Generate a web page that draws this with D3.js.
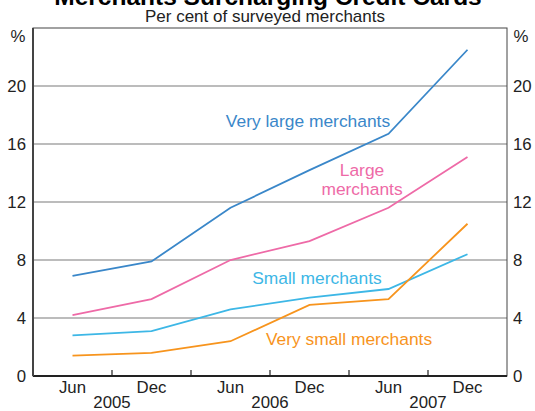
<!DOCTYPE html>
<html>
<head>
<meta charset="utf-8">
<script src="https://cdn.jsdelivr.net/npm/d3@7"></script>
<style>
  body { margin: 0; background: #fff; }
  svg { display: block; font-family: "Liberation Sans", Arial, sans-serif; }
</style>
</head>
<body>
<div class="canvas"></div>
<script>
// data
const periods = ['Jun 2005', 'Dec 2005', 'Jun 2006', 'Dec 2006', 'Jun 2007', 'Dec 2007']
const monthLabels = ['Jun', 'Dec', 'Jun', 'Dec', 'Jun', 'Dec']
const years = ['2005', '2006', '2007']
const yTicks = [0, 4, 8, 12, 16, 20]

const veryLarge = [6.9, 7.9, 11.6, 14.2, 16.7, 22.5]
const large = [4.2, 5.3, 8.0, 9.3, 11.6, 15.1]
const small = [2.8, 3.1, 4.6, 5.4, 6.0, 8.4]
const verySmall = [1.4, 1.6, 2.4, 4.9, 5.3, 10.5]

const W = 535, H = 411
const margin = {top: 28, right: 28, bottom: 35, left: 33}
const tickFont = 16.8

const svg = d3.select('.canvas').append('svg')
  .attr('width', W)
  .attr('height', H)

const x = d3.scaleBand()
  .domain(periods)
  .range([margin.left, W - margin.right])

const y = d3.scaleLinear()
  .domain([0, 24])
  .range([H - margin.bottom, margin.top])

// title (cut off at top like the original)
svg.append('text')
  .attr('x', 268).attr('y', 4.5)
  .attr('text-anchor', 'middle')
  .attr('font-size', 24.5).attr('font-weight', 'bold')
  .attr('fill', '#000')
  .text('Merchants Surcharging Credit Cards')

svg.append('text')
  .attr('x', 265).attr('y', 22)
  .attr('text-anchor', 'middle')
  .attr('font-size', 17).attr('fill', '#222')
  .text('Per cent of surveyed merchants')

// gridlines
svg.append('g')
  .selectAll('line')
  .data(yTicks.filter(d => d > 0))
  .enter().append('line')
  .attr('x1', margin.left).attr('x2', W - margin.right)
  .attr('y1', d => y(d)).attr('y2', d => y(d))
  .attr('stroke', '#a6a6a6').attr('stroke-width', 1.5)

// frame
svg.append('rect')
  .attr('x', margin.left).attr('y', margin.top)
  .attr('width', W - margin.left - margin.right)
  .attr('height', H - margin.top - margin.bottom)
  .attr('fill', 'none').attr('stroke', '#444').attr('stroke-width', 1)

svg.append('line')
  .attr('x1', margin.left).attr('x2', W - margin.right)
  .attr('y1', y(0)).attr('y2', y(0))
  .attr('stroke', '#222').attr('stroke-width', 2)
svg.append('line')
  .attr('x1', margin.left).attr('x2', margin.left)
  .attr('y1', margin.top).attr('y2', y(0))
  .attr('stroke', '#444').attr('stroke-width', 2)

// y axis labels both sides
const yLeft = d3.axisLeft(y).tickValues(yTicks).tickSize(0).tickPadding(7)
const yRight = d3.axisRight(y).tickValues(yTicks).tickSize(0).tickPadding(6)

const gl = svg.append('g').attr('transform', `translate(${margin.left},0)`).call(yLeft)
const gr = svg.append('g').attr('transform', `translate(${W - margin.right},0)`).call(yRight)
;[gl, gr].forEach(g => {
  g.select('.domain').remove()
  g.selectAll('text').attr('font-size', tickFont).attr('fill', '#222')
    .attr('font-family', '"Liberation Sans", Arial, sans-serif')
})

svg.append('text').attr('x', 18).attr('y', 42).attr('text-anchor', 'middle')
  .attr('font-size', tickFont).attr('fill', '#222').text('%')
svg.append('text').attr('x', 521).attr('y', 42).attr('text-anchor', 'middle')
  .attr('font-size', tickFont).attr('fill', '#222').text('%')

// x ticks at band boundaries
svg.append('g')
  .selectAll('line')
  .data(periods.slice(1))
  .enter().append('line')
  .attr('x1', d => x(d)).attr('x2', d => x(d))
  .attr('y1', y(0)).attr('y2', y(0) - 6)
  .attr('stroke', '#222').attr('stroke-width', 1.2)

svg.append('g')
  .selectAll('text')
  .data(periods)
  .enter().append('text')
  .attr('x', d => x(d) + x.bandwidth() / 2)
  .attr('y', y(0) + 17)
  .attr('text-anchor', 'middle')
  .attr('font-size', tickFont).attr('fill', '#222')
  .text((d, i) => monthLabels[i])

svg.append('g')
  .selectAll('text')
  .data(years)
  .enter().append('text')
  .attr('x', (d, i) => x(periods[i * 2 + 1]))
  .attr('y', y(0) + 32)
  .attr('text-anchor', 'middle')
  .attr('font-size', tickFont).attr('fill', '#222')
  .text(d => d)

// lines
const line = d3.line()
  .x((d, i) => x(periods[i]) + x.bandwidth() / 2)
  .y(d => y(d))

const series = [
  {name: 'veryLarge', values: veryLarge, color: '#3a87c9'},
  {name: 'large', values: large, color: '#ee6aa7'},
  {name: 'small', values: small, color: '#3db7e6'},
  {name: 'verySmall', values: verySmall, color: '#f7941d'}
]

svg.append('g')
  .selectAll('path')
  .data(series)
  .enter().append('path')
  .attr('d', d => line(d.values))
  .attr('fill', 'none')
  .attr('stroke', d => d.color)
  .attr('stroke-width', 1.8)

// labels
const labels = [
  {lines: ['Very large merchants'], x: 308, y: 127, color: '#3a87c9'},
  {lines: ['Large', 'merchants'], x: 362, y: 176, color: '#ee6aa7'},
  {lines: ['Small merchants'], x: 317, y: 284, color: '#3db7e6'},
  {lines: ['Very small merchants'], x: 349, y: 345, color: '#f7941d'}
]

labels.forEach(l => {
  const t = svg.append('text')
    .attr('text-anchor', 'middle')
    .attr('font-size', 17.4).attr('fill', l.color)
  l.lines.forEach((s, i) => {
    t.append('tspan').attr('x', l.x).attr('y', l.y + i * 18.5).text(s)
  })
})
</script>
</body>
</html>
